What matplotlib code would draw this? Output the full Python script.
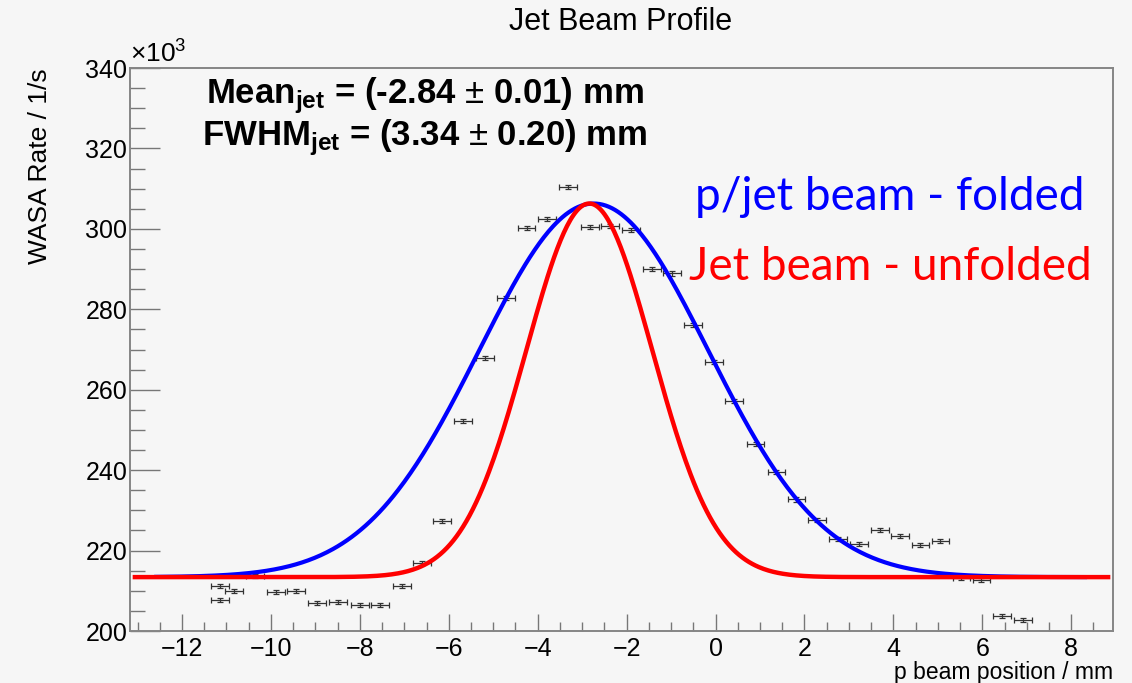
import numpy as np
import matplotlib
matplotlib.use("Agg")
import matplotlib.pyplot as plt
from matplotlib.ticker import MultipleLocator

plt.rcParams['font.family'] = ['Liberation Sans', 'DejaVu Sans']
plt.rcParams['mathtext.fontset'] = 'custom'
plt.rcParams['mathtext.rm'] = 'Liberation Sans'
plt.rcParams['mathtext.bf'] = 'Liberation Sans:bold'
plt.rcParams['mathtext.it'] = 'Liberation Sans:italic'

# measured WASA rate vs p beam position (rate in units of 10^3 1/s)
pos = [-11.14, -11.14, -10.83, -10.36, -9.89, -9.43, -8.96, -8.49, -8.00, -7.54,
       -7.06, -6.60, -6.15, -5.68, -5.19, -4.72, -4.25, -3.79, -3.32, -2.83,
       -2.38, -1.91, -1.43, -0.98, -0.50, -0.03, 0.42, 0.90, 1.37, 1.82,
       2.29, 2.76, 3.22, 3.70, 4.15, 4.61, 5.06, 5.53, 5.98, 6.45, 6.91]
rate = [211.2, 207.6, 210.0, 213.7, 209.7, 209.9, 207.0, 207.1, 206.4, 206.4,
        211.2, 216.9, 227.4, 252.2, 267.9, 282.9, 300.1, 302.4, 310.3, 300.5,
        300.7, 299.7, 290.0, 288.9, 276.2, 266.9, 257.2, 246.6, 239.5, 232.7,
        227.7, 222.8, 221.7, 225.1, 223.6, 221.3, 222.4, 213.1, 212.8, 203.7, 202.7]
pos_err = 0.2
rate_err = 0.5

# gaussian fit results: mean, FWHM, amplitude, offset, drawn range
jet_mean, jet_fwhm = -2.84, 3.34
folded_mean, folded_fwhm = -2.74, 6.07
fit_amp, fit_offset = 92.9, 213.4
jet_range = (-13.06, 8.83)
folded_range = (-12.58, 8.31)


def gauss(x, mean, fwhm):
    sigma = fwhm / (2 * np.sqrt(2 * np.log(2)))
    return fit_offset + fit_amp * np.exp(-0.5 * ((x - mean) / sigma) ** 2)


bg = '#f6f6f6'
W, H = 1132, 683
fig = plt.figure(figsize=(W / 100, H / 100), dpi=100, facecolor=bg)
ax = fig.add_axes([130 / W, 1 - 631 / H, (1113 - 130) / W, (631 - 68) / H], facecolor=bg)

ax.errorbar(pos, rate, xerr=pos_err, yerr=rate_err, fmt='none', ecolor='#333333',
            elinewidth=0.9, capsize=2.5, capthick=0.9, zorder=2)

xf = np.linspace(*folded_range, 600)
ax.plot(xf, gauss(xf, folded_mean, folded_fwhm), color='#0000ff', lw=3.0, zorder=3)
xj = np.linspace(*jet_range, 600)
ax.plot(xj, gauss(xj, jet_mean, jet_fwhm), color='#ff0000', lw=3.2, zorder=4)

ax.set_xlim(-13.17, 8.94)
ax.set_ylim(200, 340)
ax.xaxis.set_major_locator(MultipleLocator(2))
ax.xaxis.set_minor_locator(MultipleLocator(0.5))
ax.yaxis.set_major_locator(MultipleLocator(20))
ax.yaxis.set_minor_locator(MultipleLocator(5))
ax.tick_params(axis='both', which='both', direction='in', color='#777777',
               labelsize=18, top=False, right=False)
ax.tick_params(axis='x', which='major', length=12.5, width=1.0, pad=4)
ax.tick_params(axis='x', which='minor', length=6.5, width=1.0)
ax.tick_params(axis='y', which='major', length=21.5, width=1.0, pad=2)
ax.tick_params(axis='y', which='minor', length=11, width=1.0)
for s in ax.spines.values():
    s.set_color('#858585')
    s.set_linewidth(1.4)


def px(x, y):
    return x / W, 1 - y / H


fig.text(*px(130, 63), r'$\times10^{3}$', fontsize=19, ha='left', va='baseline')
fig.text(*px(621, 30), 'Jet Beam Profile', fontsize=22, ha='center', va='baseline')
fig.text(*px(40, 68), 'WASA Rate / 1/s', fontsize=19, rotation=90, ha='center', va='top')
fig.text(*px(1113, 679), 'p beam position / mm', fontsize=16.5, ha='right', va='baseline')

fig.text(*px(425, 103), r'Mean$_{\mathbf{jet}}$ = (-2.84 $\pm$ 0.01) mm',
         fontsize=25, fontweight='bold', ha='center', va='baseline')
fig.text(*px(425, 145), r'FWHM$_{\mathbf{jet}}$ = (3.34 $\pm$ 0.20) mm',
         fontsize=25, fontweight='bold', ha='center', va='baseline')

fig.text(*px(890, 210), 'p/jet beam - folded', color='#0000ff', fontsize=33,
         family='Lato', ha='center', va='baseline')
fig.text(*px(890, 280), 'Jet beam - unfolded', color='#ff0000', fontsize=33,
         family='Lato', ha='center', va='baseline')

fig.savefig('out.png', dpi=100, facecolor=bg)
